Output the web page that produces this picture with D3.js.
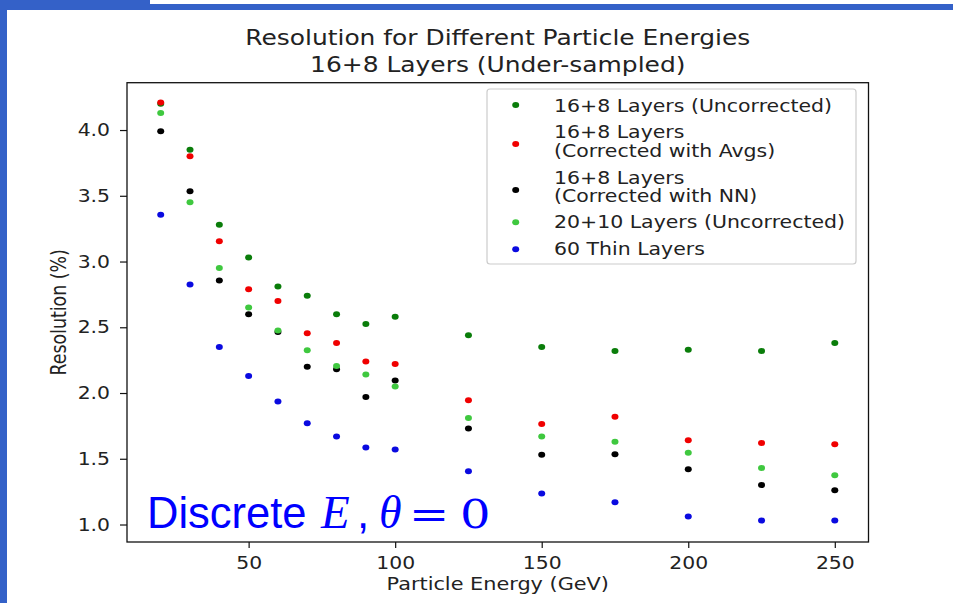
<!DOCTYPE html>
<html>
<head>
<meta charset="utf-8">
<script src="https://cdn.jsdelivr.net/npm/d3@7"></script>
<style>
  html, body { margin: 0; padding: 0; background: #fff; }
  svg { display: block; }
</style>
</head>
<body>
<svg id="chart" width="953" height="603"></svg>
<script>
// ---------------- DATA ----------------
const energies = [20, 30, 40, 50, 60, 70, 80, 90, 100, 125, 150, 175, 200, 225, 250];
const uncorr16 = [4.20, 3.85, 3.28, 3.03, 2.81, 2.74, 2.60, 2.525, 2.58, 2.44, 2.35, 2.32, 2.33, 2.32, 2.38];
const avgs16   = [4.21, 3.80, 3.155, 2.79, 2.70, 2.455, 2.38, 2.24, 2.22, 1.945, 1.765, 1.82, 1.64, 1.62, 1.61];
const nn16     = [3.99, 3.535, 2.855, 2.60, 2.465, 2.20, 2.18, 1.97, 2.095, 1.73, 1.53, 1.535, 1.42, 1.30, 1.26];
const uncorr20 = [4.13, 3.45, 2.95, 2.65, 2.475, 2.325, 2.205, 2.14, 2.05, 1.81, 1.67, 1.63, 1.545, 1.43, 1.375];
const thin60   = [3.355, 2.825, 2.35, 2.13, 1.935, 1.77, 1.67, 1.585, 1.57, 1.405, 1.235, 1.17, 1.06, 1.03, 1.03];

const seriesNames = [
  ["16+8 Layers (Uncorrected)"],
  ["16+8 Layers", "(Corrected with Avgs)"],
  ["16+8 Layers", "(Corrected with NN)"],
  ["20+10 Layers (Uncorrected)"],
  ["60 Thin Layers"]
];
const seriesValues = [uncorr16, avgs16, nn16, uncorr20, thin60];
const seriesColors = ["#0a7d0a", "#f00000", "#000000", "#3fc83f", "#0a0ae0"];

const xTicks = [50, 100, 150, 200, 250];
const yTicks = [1.0, 1.5, 2.0, 2.5, 3.0, 3.5, 4.0];

const titleLines = ["Resolution for Different Particle Energies", "16+8 Layers (Under-sampled)"];
const xLabel = "Particle Energy (GeV)";
const yLabel = "Resolution (%)";

// ---------------- LAYOUT ----------------
const SX = 1.17;           // horizontal stretch of the original figure
const FONT = "'DejaVu Sans', sans-serif";
const plot = { left: 127, right: 868.5, top: 82.7, bottom: 542 };

const svg = d3.select("#chart");

// slide frame
const frameBlue = "#3461c8";
svg.append("rect").attr("x", 0).attr("y", 0).attr("width", 7).attr("height", 603).attr("fill", frameBlue);
svg.append("rect").attr("x", 0).attr("y", 0).attr("width", 150).attr("height", 10).attr("fill", frameBlue);
svg.append("rect").attr("x", 150).attr("y", 4).attr("width", 803).attr("height", 6).attr("fill", frameBlue);

const x = d3.scaleLinear().domain([8.5, 261.5]).range([plot.left, plot.right]);
const y = d3.scaleLinear().domain([0.867, 4.36]).range([plot.bottom, plot.top]);

// axes
const gx = svg.append("g").attr("transform", `translate(0,${plot.bottom})`)
  .call(d3.axisBottom(x).tickValues(xTicks).tickFormat(d3.format("d")).tickSize(6).tickPadding(9).tickSizeOuter(0));
const gy = svg.append("g").attr("transform", `translate(${plot.left},0)`)
  .call(d3.axisLeft(y).tickValues(yTicks).tickFormat(d3.format(".1f")).tickSize(7).tickPadding(8).tickSizeOuter(0));

[gx, gy].forEach(g => {
  g.select(".domain").remove();
  g.selectAll(".tick line").attr("stroke", "#111").attr("stroke-width", 1.2);
  g.selectAll(".tick text").attr("fill", "#222").style("font-family", FONT).style("font-size", "17.4px");
});
gy.selectAll(".tick text").attr("x", null).attr("transform", `translate(-17,0) scale(${SX},1)`);
gx.selectAll(".tick text").attr("transform", `scale(${SX},1)`);

// plot frame
svg.append("rect")
  .attr("x", plot.left).attr("y", plot.top)
  .attr("width", plot.right - plot.left).attr("height", plot.bottom - plot.top)
  .attr("fill", "none").attr("stroke", "#111").attr("stroke-width", 1.3);

// points
seriesValues.forEach((vals, si) => {
  svg.append("g").selectAll("ellipse")
    .data(energies.map((e, i) => ({ e, v: vals[i] })))
    .join("ellipse")
    .attr("cx", d => x(d.e))
    .attr("cy", d => y(d.v))
    .attr("rx", 3.5).attr("ry", 3)
    .attr("fill", seriesColors[si]);
});

// title
const cx = (plot.left + plot.right) / 2;
titleLines.forEach((t, i) => {
  svg.append("text")
    .attr("transform", `translate(${cx},${45 + i * 27}) scale(${SX},1)`)
    .attr("text-anchor", "middle")
    .attr("fill", "#222")
    .style("font-family", FONT).style("font-size", "21.3px")
    .text(t);
});

// axis labels
svg.append("text")
  .attr("transform", `translate(${cx},590) scale(${SX},1)`)
  .attr("text-anchor", "middle").attr("fill", "#222")
  .style("font-family", FONT).style("font-size", "17.8px")
  .text(xLabel);
svg.append("text")
  .attr("transform", `translate(66,${(plot.top + plot.bottom) / 2}) scale(${SX},1) rotate(-90)`)
  .attr("text-anchor", "middle").attr("fill", "#222")
  .style("font-family", FONT).style("font-size", "17.4px")
  .text(yLabel);

// legend
const leg = svg.append("g");
leg.append("rect")
  .attr("x", 487).attr("y", 89).attr("width", 369).attr("height", 175)
  .attr("rx", 3).attr("fill", "#fff").attr("fill-opacity", 0.85)
  .attr("stroke", "#cccccc").attr("stroke-width", 1.2);
const markerY = [105, 144, 190, 222.3, 249.3];
const textBaselines = [[111.5], [138.3, 156.7], [184, 202.3], [228.3], [255]];
seriesNames.forEach((lines, si) => {
  leg.append("ellipse").attr("cx", 515.7).attr("cy", markerY[si])
    .attr("rx", 3.5).attr("ry", 3).attr("fill", seriesColors[si]);
  lines.forEach((ln, li) => {
    leg.append("text")
      .attr("transform", `translate(554,${textBaselines[si][li]}) scale(${SX},1)`)
      .attr("fill", "#222")
      .style("font-family", FONT).style("font-size", "17.5px")
      .text(ln);
  });
});

// slide annotation
const annParts = [
  { t: "Discrete", x: 147, fam: "'Liberation Sans', Arial, sans-serif", sz: 43.5, it: false, sx: 1 },
  { t: "E",        x: 321, fam: "'Liberation Serif', serif", sz: 47, it: true, sx: 1 },
  { t: ",",        x: 357, fam: "'Liberation Sans', Arial, sans-serif", sz: 44, it: false, sx: 1 },
  { t: "θ",        x: 379, fam: "'Liberation Serif', serif", sz: 46, it: true, sx: 1 },
  { t: "=",        x: 409, fam: "'DejaVu Serif', serif", sz: 40, it: false, sx: 1.2 },
  { t: "0",        x: 460, fam: "'DejaVu Serif', serif", sz: 40, it: false, sx: 1.2 }
];
annParts.forEach(p => {
  svg.append("text")
    .attr("transform", `translate(${p.x},528) scale(${p.sx},1)`)
    .attr("fill", "#0000ff")
    .style("font-family", p.fam).style("font-size", p.sz + "px")
    .style("font-style", p.it ? "italic" : "normal")
    .text(p.t);
});
</script>
</body>
</html>
